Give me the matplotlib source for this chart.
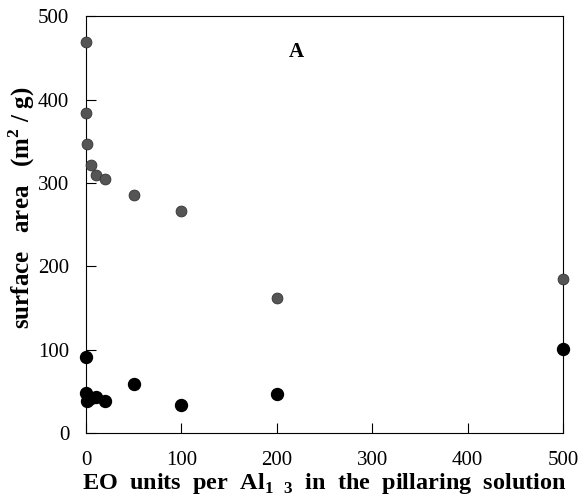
import numpy as np
import matplotlib.pyplot as plt

plt.rcParams['font.family'] = ['Liberation Serif', 'DejaVu Serif']
plt.rcParams['mathtext.fontset'] = 'custom'
plt.rcParams['mathtext.rm'] = 'Liberation Serif'
plt.rcParams['mathtext.bf'] = 'Liberation Serif:bold'

# EO units per Al13
eo_gray = [0, 0.5, 1, 5, 10, 20, 50, 100, 200, 500]
area_gray = [469, 384, 347, 321, 309, 305, 286, 266, 162, 185]

eo_black = [0, 0.5, 1, 5, 10, 20, 50, 100, 200, 500]
area_black = [91, 48, 38, 42, 43, 38, 59, 34, 47, 101]

xticks = [0, 100, 200, 300, 400, 500]
yticks = [0, 100, 200, 300, 400, 500]

fig = plt.figure(figsize=(5.79, 5.01), dpi=100)
ax = fig.add_axes([0.1485, 0.1357, 0.824, 0.832])

ax.plot(eo_gray, area_gray, 'o', color='#555555', ms=7.8, mec='#333333', mew=0.6,
        clip_on=False, zorder=3)
ax.plot(eo_black, area_black, 'o', color='black', ms=8.6, clip_on=False, zorder=3)

ax.set_xlim(0, 500)
ax.set_ylim(0, 500)
ax.set_xticks(xticks)
ax.set_yticks(yticks)
ax.tick_params(direction='in', length=7, width=0.8, labelsize=15, top=False, right=False)
ax.tick_params(axis='x', pad=13)
ax.tick_params(axis='y', pad=12)
for s in ax.spines.values():
    s.set_linewidth(0.8)

ax.set_xlabel(r'EO  units  per  Al$_{\mathbf{1\ \ 3}}$  in  the  pillaring  solution',
              fontsize=17.5, fontweight='bold')
ax.xaxis.set_label_coords(0.5, -0.09)
ax.set_ylabel(r'surface   area   (m$^{\mathbf{2}}$ / g)', fontsize=18,
              fontweight='bold')
ax.yaxis.set_label_coords(-0.102, 0.54)
ax.text(0.44, 0.915, 'A', transform=ax.transAxes, fontsize=15, fontweight='bold',
        ha='center', va='center')

fig.savefig('out.png', dpi=100)
